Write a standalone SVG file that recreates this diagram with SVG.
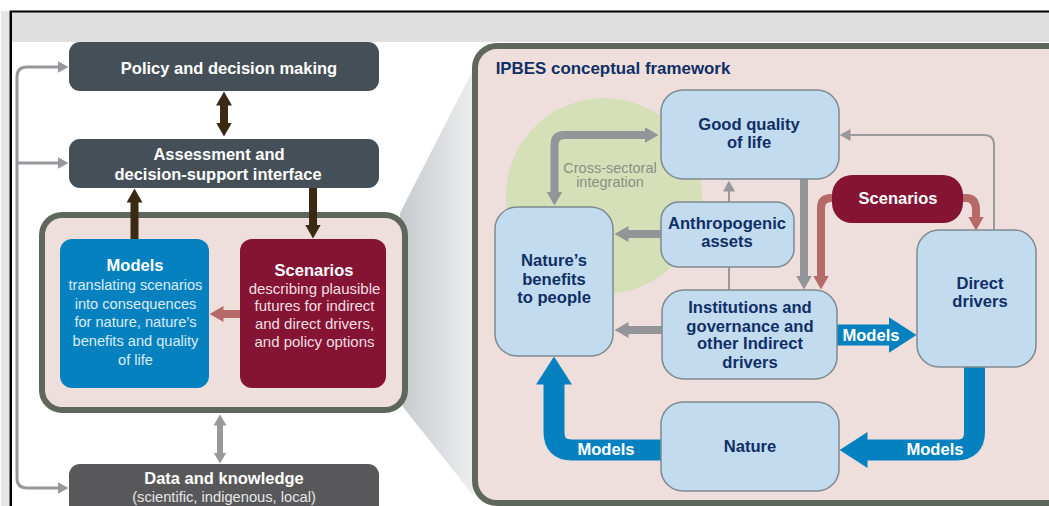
<svg xmlns="http://www.w3.org/2000/svg" width="1049" height="506" viewBox="0 0 1049 506">
<style>
text{font-family:"Liberation Sans",Arial,sans-serif;text-anchor:middle}
.dark{fill:#fff;font-weight:bold;font-size:16.5px}
.dim{fill:#e6e6e6;font-size:14.7px}
.body{fill:#dcebf4;font-size:14.6px}
.bodyr{fill:#f1dfe2;font-size:15px}
.head{fill:#fff;font-weight:bold;font-size:16.5px}
.cross{fill:#8a8f86;font-size:14.5px}
.panel{fill:#eedfdc;stroke:#5f675c;stroke-width:6}
.box{fill:#c3dbef;stroke:#7f8a8f;stroke-width:1.5}
.navy{fill:#0f2f66;font-weight:bold;font-size:16.6px}
.ml{fill:#fff;font-weight:bold;font-size:16.6px}
.s{fill:none}
.br{stroke:#3a2a14;stroke-width:8}
.gr{stroke:#949598;stroke-width:8}
.gl{stroke:#98989c;stroke-width:3}
.gm{stroke:#98989c;stroke-width:6}
.gt{stroke:#9a9a9c;stroke-width:2}
.rd{stroke:#b56a68;stroke-width:8}
.bl{stroke:#0581c0;stroke-width:21}
</style>
<defs>
<linearGradient id="wedge" x1="0" x2="1" y1="0" y2="0"><stop offset="0" stop-color="#c6cbce"/><stop offset="1" stop-color="#ecedee"/></linearGradient>
<marker id="mBr" markerUnits="userSpaceOnUse" markerWidth="14" markerHeight="16" viewBox="0 0 14 16" refX="0.5" refY="8" orient="auto-start-reverse"><path d="M0 0L14 8L0 16Z" fill="#3a2a14"/></marker>
<marker id="mGr" markerUnits="userSpaceOnUse" markerWidth="14" markerHeight="16" viewBox="0 0 14 16" refX="0.5" refY="8" orient="auto-start-reverse"><path d="M0 0L14 8L0 16Z" fill="#949598"/></marker>
<marker id="mRd" markerUnits="userSpaceOnUse" markerWidth="14" markerHeight="16" viewBox="0 0 14 16" refX="0.5" refY="8" orient="auto-start-reverse"><path d="M0 0L14 8L0 16Z" fill="#b56a68"/></marker>
<marker id="mGl" markerUnits="userSpaceOnUse" markerWidth="11" markerHeight="12" viewBox="0 0 11 12" refX="0.5" refY="6" orient="auto-start-reverse"><path d="M0 0L11 6L0 12Z" fill="#98989c"/></marker>
<marker id="mGm" markerUnits="userSpaceOnUse" markerWidth="11" markerHeight="13" viewBox="0 0 11 13" refX="0.5" refY="6.5" orient="auto-start-reverse"><path d="M0 0L11 6.5L0 13Z" fill="#98989c"/></marker>
<marker id="mBl" markerUnits="userSpaceOnUse" markerWidth="28" markerHeight="36" viewBox="0 0 28 36" refX="0.5" refY="18" orient="auto-start-reverse"><path d="M0 0L28 18L0 36Z" fill="#0581c0"/></marker>
</defs>
<rect width="1049" height="506" fill="#fff"/>
<rect x="1" y="11" width="8" height="495" fill="#e6e6e6"/>
<rect x="12" y="12" width="1037" height="30" fill="#dfdfdf"/>
<path d="M9.5 506V10.5H1049V12.5H12V506Z" fill="#000"/>
<path d="M400 213L473 70V495L403 407Z" fill="url(#wedge)"/>

<g id="panel-left"><rect class="panel" x="42" y="215" width="363" height="195" rx="20"/></g>
<g id="panel-right">
<rect class="panel" x="475" y="46" width="620" height="457" rx="22"/>
<text x="613" y="74" style="fill:#0f2f66;font-weight:bold;font-size:16.9px">IPBES conceptual framework</text>
<circle cx="604" cy="196" r="98" fill="#d5e0b8"/>
<text class="cross" x="610" y="172.500">Cross-sectoral</text>
<text class="cross" x="610" y="187">integration</text>
</g>

<g id="connectors">
<path class="s gl" d="M17 163V77Q17 67 27 67H58" marker-end="url(#mGl)"/>
<path class="s gl" d="M17 163V478Q17 488 27 488H58" marker-end="url(#mGl)"/>
<path class="s gl" d="M17 163H58" marker-end="url(#mGl)"/>
<path class="s br" d="M224 105V123" marker-start="url(#mBr)" marker-end="url(#mBr)"/>
<path class="s br" d="M134.500 239V202" marker-end="url(#mBr)"/>
<path class="s br" d="M313 188V225" marker-end="url(#mBr)"/>
<path class="s rd" d="M240 314H223" marker-end="url(#mRd)"/>
<path class="s gm" d="M220 425V453" marker-start="url(#mGm)" marker-end="url(#mGm)"/>

<path class="s gr" d="M645 135H564Q554.500 135 554.500 145V192" marker-start="url(#mGr)" marker-end="url(#mGr)"/>
<path class="s gt" d="M729 290V191" marker-end="url(#mGl)"/>
<path class="s gr" d="M661 234H628" marker-end="url(#mGr)"/>
<path class="s gr" d="M662 330H628" marker-end="url(#mGr)"/>
<path class="s gr" d="M804 179V276" marker-end="url(#mGr)"/>
<path class="s rd" d="M834 198H831Q821 198 821 208V276" marker-end="url(#mRd)"/>
<path class="s rd" d="M960 198H966Q976 198 976 210V217" marker-end="url(#mRd)"/>
<path class="s gt" d="M994 230V145Q994 135 984 135H850" marker-end="url(#mGl)"/>
<path class="s bl" d="M837 335H889" marker-end="url(#mBl)"/>
<path class="s bl" d="M974.500 366V432Q974.500 450 956 450H867" marker-end="url(#mBl)"/>
<path class="s bl" d="M661 450H572Q554 450 554 432V384" marker-end="url(#mBl)"/>
<text class="ml" x="871" y="341">Models</text>
<text class="ml" x="935" y="455">Models</text>
<text class="ml" x="606" y="455">Models</text>
</g>

<g id="node-policy"><rect x="69" y="42" width="310" height="49" rx="11" fill="#454f57"/><text class="dark" x="229" y="74">Policy and decision making</text></g>
<g id="node-assessment"><rect x="69" y="139" width="310" height="49" rx="11" fill="#454f57"/><text class="dark" x="219" y="160">Assessment and</text><text class="dark" x="218" y="180">decision-support interface</text></g>
<g id="node-data"><rect x="69" y="464" width="310" height="60" rx="11" fill="#58585a"/><text class="dark" x="224" y="484">Data and knowledge</text><text class="dim" x="224" y="502">(scientific, indigenous, local)</text></g>
<g id="node-models"><rect x="60" y="239" width="149" height="149" rx="12" fill="#0581c0"/>
<text class="head" x="135" y="271">Models</text>
<text class="body" x="135.500" y="290">translating scenarios</text><text class="body" x="135.500" y="309">into consequences</text><text class="body" x="135.500" y="327">for nature, nature’s</text><text class="body" x="135.500" y="346">benefits and quality</text><text class="body" x="135.500" y="365">of life</text></g>
<g id="node-scenarios"><rect x="240" y="239" width="146" height="149" rx="12" fill="#851434"/>
<text class="head" x="314" y="276">Scenarios</text>
<text class="bodyr" x="314.500" y="294">describing plausible</text><text class="bodyr" x="314.500" y="311">futures for indirect</text><text class="bodyr" x="314.500" y="329">and direct drivers,</text><text class="bodyr" x="314.500" y="347">and policy options</text></g>

<g id="node-quality"><rect class="box" x="661" y="90" width="178" height="89" rx="22"/><text class="navy" x="749" y="130">Good quality</text><text class="navy" x="749" y="148">of life</text></g>
<g id="node-assets"><rect class="box" x="661" y="202" width="133" height="65" rx="18"/><text class="navy" x="727" y="229">Anthropogenic</text><text class="navy" x="727" y="247">assets</text></g>
<g id="node-benefits"><rect class="box" x="495" y="207" width="118" height="149" rx="22"/><text class="navy" x="554" y="266">Nature’s</text><text class="navy" x="554" y="285">benefits</text><text class="navy" x="554" y="303">to people</text></g>
<g id="node-institutions"><rect class="box" x="662" y="290" width="175" height="89" rx="22"/><text class="navy" x="750" y="313">Institutions and</text><text class="navy" x="750" y="332">governance and</text><text class="navy" x="750" y="349">other Indirect</text><text class="navy" x="750" y="368">drivers</text></g>
<g id="node-nature"><rect class="box" x="661" y="402" width="178" height="89" rx="22"/><text class="navy" x="750" y="452">Nature</text></g>
<g id="node-direct"><rect class="box" x="917" y="230" width="119" height="137" rx="22"/><text class="navy" x="980" y="289">Direct</text><text class="navy" x="980" y="307">drivers</text></g>
<g id="node-scen2"><rect x="832" y="175" width="131" height="48" rx="20" fill="#851434"/><text class="head" x="898" y="204">Scenarios</text></g>
</svg>
